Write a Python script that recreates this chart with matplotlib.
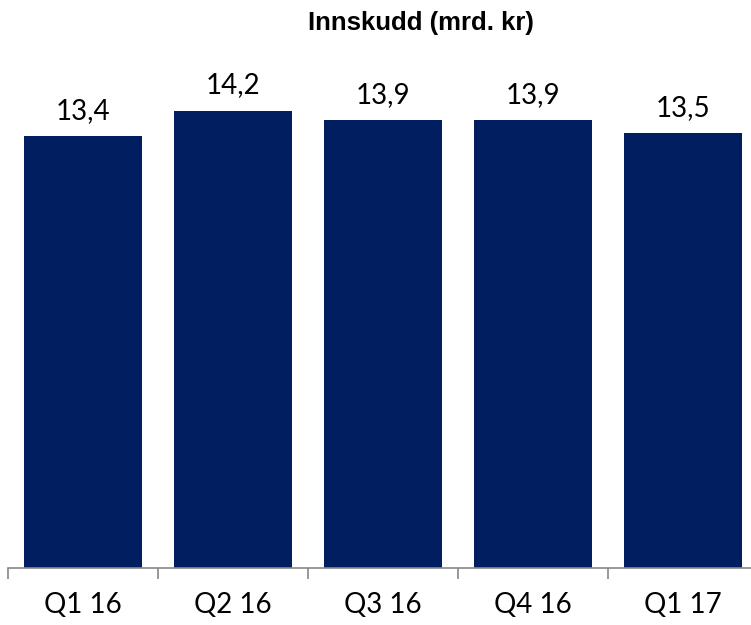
import matplotlib
matplotlib.use("Agg")
import matplotlib.pyplot as plt

# Innskudd per kvartal (mrd. kr)
kvartaler = ["Q1 16", "Q2 16", "Q3 16", "Q4 16", "Q1 17"]
innskudd = [13.4, 14.2, 13.9, 13.9, 13.5]

W, H = 751, 625
fig = plt.figure(figsize=(W / 100, H / 100), dpi=100)

# aksen går litt utenfor bildet til høyre (som i originalen)
x0, x1 = 8, 758
y_bunn, y_topp = 568, 30
ax = fig.add_axes([x0 / W, 1 - y_bunn / H, (x1 - x0) / W, (y_bunn - y_topp) / H])

pos = range(len(kvartaler))
ax.bar(pos, innskudd, width=0.79, color="#001E60")
ax.set_xlim(-0.5, len(kvartaler) - 0.5)
ax.set_ylim(0, 16.7)

for p, v in zip(pos, innskudd):
    ax.annotate(f"{v:.1f}".replace(".", ","), (p, v), xytext=(0, 9),
                textcoords="offset points", ha="center", va="bottom",
                fontsize=20, family="Lato", color="black")

for side in ["top", "right", "left"]:
    ax.spines[side].set_visible(False)
ax.spines["bottom"].set_color("#888888")
ax.spines["bottom"].set_linewidth(1.2)
ax.set_yticks([])

# tick-merker mellom kategoriene, etiketter i midten
ax.set_xticks([i - 0.5 for i in range(len(kvartaler) + 1)])
ax.set_xticklabels([])
ax.set_xticks(list(pos), minor=True)
ax.set_xticklabels(kvartaler, minor=True, fontsize=20, family="Lato")
ax.tick_params(axis="x", which="major", length=8, width=1.2, color="#888888")
ax.tick_params(axis="x", which="minor", length=0, pad=17)

fig.text(421 / W, 1 - 23 / H, "Innskudd (mrd. kr)", ha="center", va="center",
         fontsize=18.5, fontweight="bold", family="Liberation Sans")

fig.savefig("out.png", dpi=100)
